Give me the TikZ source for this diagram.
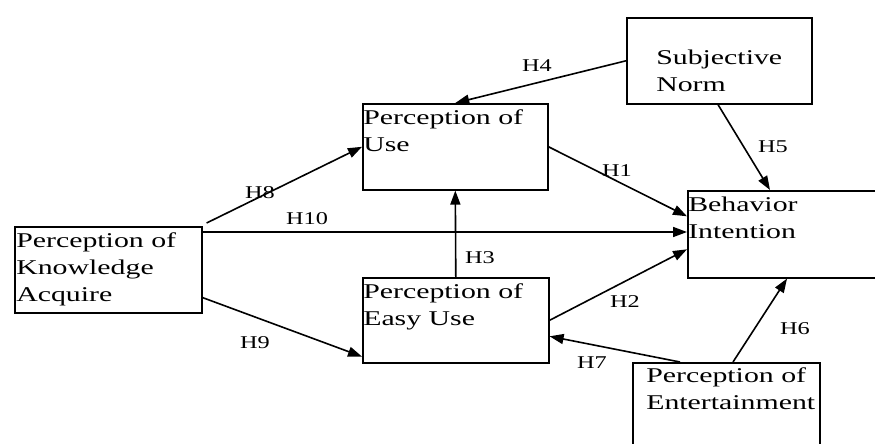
\documentclass[tikz,border=0pt]{standalone}
\usepackage{fontspec}
\setmainfont{Liberation Serif}
\usetikzlibrary{arrows.meta}
\begin{document}
\begin{tikzpicture}[x=1pt,y=-1pt,
  box/.style={draw,line width=1.6pt,inner sep=0pt,anchor=north west},
  txt/.style={inner sep=0pt,anchor=north west,align=left,xscale=1.42,
    font=\fontsize{21}{27}\selectfont},
  hyp/.style={inner sep=0pt,xscale=1.35,font=\fontsize{18}{20}\selectfont},
  link/.style={line width=1.6pt,-{Triangle[length=14pt,width=10pt]}}]%
% page frame, pixel units
\useasboundingbox (0,0) rectangle (875,444);
% boxes
\node[box,minimum width=187pt,minimum height=86pt] (kno) at (14,226) {};
\node[box,minimum width=185pt,minimum height=86pt] (use) at (362,103) {};
\node[box,minimum width=186pt,minimum height=85pt] (easy) at (362,277) {};
\node[box,minimum width=185pt,minimum height=86pt] (norm) at (626,17) {};
\node[box,minimum width=195pt,minimum height=87pt] (bi) at (687,190) {};
\node[box,minimum width=187pt,minimum height=100pt] (ent) at (632,362) {};
% box texts
\node[txt] (knot) at ([shift={(2,7)}]kno.north west) {Perception of\\Knowledge\\Acquire};
\node[txt] (uset) at ([shift={(1,7)}]use.north west) {Perception of\\Use};
\node[txt] (easyt) at ([shift={(1,7)}]easy.north west) {Perception of\\Easy Use};
\node[txt] (normt) at ([shift={(30,33)}]norm.north west) {Subjective\\Norm};
\node[txt] (bit) at ([shift={(1,7)}]bi.north west) {Behavior\\Intention};
\node[txt] (entt) at ([shift={(14,6)}]ent.north west) {Perception of\\Entertainment};
% paths
\coordinate (h10s) at ([yshift=-6pt]kno.north east);
\draw[link] (norm.west) -- (use.north);
\draw[link] (use.east) -- ([yshift=18pt]bi.west);
\draw[link] ([xshift=92pt]norm.south west) -- ([xshift=83pt]bi.north west);
\draw[link] ([shift={(4pt,3pt)}]kno.north east) -- (use.west);
\draw[link] (h10s) -- (h10s -| bi.west);
\draw[link] ([yshift=16pt]kno.south east) -- ([yshift=7pt]easy.south west);
\draw[link] (easy.north) -- (use.south);
\draw[link] (easy.east) -- ([yshift=-15pt]bi.west);
\draw[link] ([xshift=48pt]ent.north west) -- ([yshift=-16pt]easy.east);
\draw[link] ([xshift=101pt]ent.north west) -- ([xshift=100pt]bi.south west);
% hypotheses
\node[hyp] (H1) at (617,171) {H1};
\node[hyp] (H2) at (625,302) {H2};
\node[hyp] (H3) at (480,258) {H3};
\node[hyp] (H4) at (537,66) {H4};
\node[hyp] (H5) at (773,147) {H5};
\node[hyp] (H6) at (795,329) {H6};
\node[hyp] (H7) at (592,363) {H7};
\node[hyp] (H8) at (260,193) {H8};
\node[hyp] (H9) at (255,343) {H9};
\node[hyp] (H10) at (307,219) {H10};
\end{tikzpicture}
\end{document}
